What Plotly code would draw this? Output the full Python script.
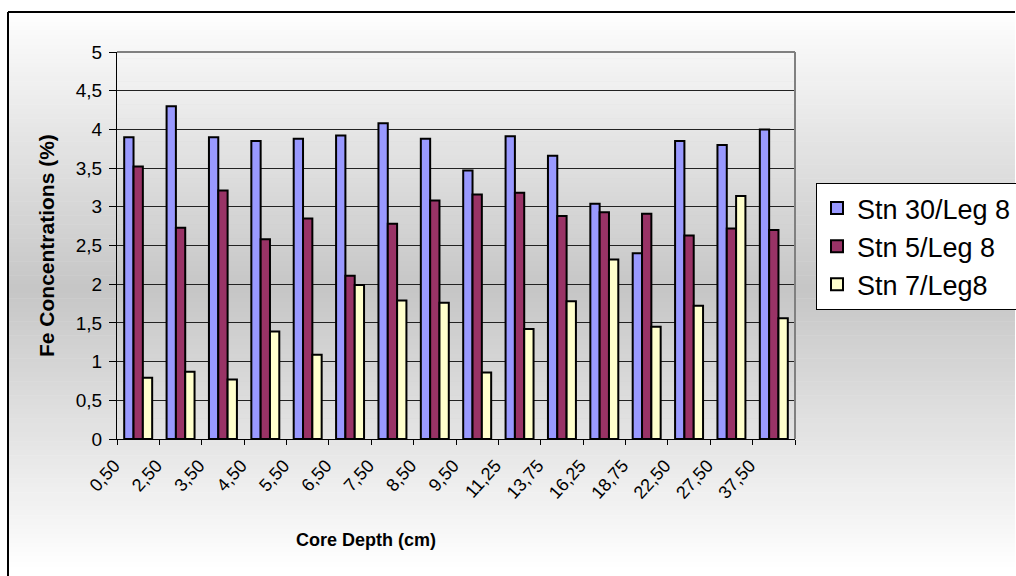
import plotly.graph_objects as go

# Core depths (cm) and Fe concentrations (%) for three stations
depths = ["0,50", "2,50", "3,50", "4,50", "5,50", "6,50", "7,50", "8,50",
          "9,50", "11,25", "13,75", "16,25", "18,75", "22,50", "27,50", "37,50"]
stn30_leg8 = [3.90, 4.30, 3.90, 3.85, 3.88, 3.92, 4.08, 3.88,
              3.47, 3.91, 3.66, 3.04, 2.40, 3.85, 3.80, 4.00]
stn5_leg8 = [3.52, 2.73, 3.21, 2.58, 2.85, 2.11, 2.78, 3.08,
             3.16, 3.18, 2.88, 2.93, 2.91, 2.63, 2.72, 2.70]
stn7_leg8 = [0.79, 0.87, 0.77, 1.39, 1.09, 1.99, 1.79, 1.76,
             0.86, 1.42, 1.78, 2.32, 1.45, 1.72, 3.14, 1.56]

y_ticks = [0, 0.5, 1, 1.5, 2, 2.5, 3, 3.5, 4, 4.5, 5]
y_tick_text = ["0", "0,5", "1", "1,5", "2", "2,5", "3", "3,5", "4", "4,5", "5"]

FONT = "Liberation Sans, Arial, sans-serif"
W, H = 1016, 576
L, R, T, B = 117, 221, 52, 137
PW, PH = W - L - R, H - T - B
RIGHT_END = W - 1


def px_x(x):
    return (x - L) / PW


def px_y(y):
    return (H - B - y) / PH


fig = go.Figure()
series = [
    ("Stn 30/Leg 8", stn30_leg8, "#9999ff"),
    ("Stn 5/Leg 8", stn5_leg8, "#993366"),
    ("Stn 7/Leg8", stn7_leg8, "#ffffcc"),
]
for name, vals, color in series:
    fig.add_trace(go.Bar(
        x=depths, y=vals, name=name,
        marker=dict(color=color, line=dict(color="black", width=2)),
    ))

# Chart-area background: vertical white -> grey -> white gradient built from strips
shapes = []
top_px, bot_px, mid_px = 12, 566, 289
n = 120
for i in range(n):
    y0 = top_px + (bot_px - top_px) * i / n
    y1 = top_px + (bot_px - top_px) * (i + 1) / n
    yc = (y0 + y1) / 2
    f = 1 - abs(yc - mid_px) / (mid_px - top_px if yc < mid_px else bot_px - mid_px)
    g = round(254 - f * (254 - 198))
    col = f"rgb({g},{g},{g})"
    shapes.append(dict(type="rect", xref="paper", yref="paper", layer="below",
                       x0=px_x(8), x1=px_x(RIGHT_END), y0=px_y(min(y1 + 0.5, H)), y1=px_y(y0),
                       fillcolor=col, line=dict(width=0)))
# Outer chart border (top and left edges fall inside the canvas)
shapes.append(dict(type="line", xref="paper", yref="paper", layer="above",
                   x0=px_x(8), x1=px_x(RIGHT_END), y0=px_y(12), y1=px_y(12),
                   line=dict(color="black", width=2)))
shapes.append(dict(type="line", xref="paper", yref="paper", layer="above",
                   x0=px_x(8), x1=px_x(8), y0=px_y(12), y1=px_y(H),
                   line=dict(color="black", width=2)))
# Grey plot-area border on top and right
shapes.append(dict(type="line", xref="paper", yref="paper", x0=0, x1=1, y0=1, y1=1,
                   line=dict(color="#808080", width=2)))
shapes.append(dict(type="line", xref="paper", yref="paper", x0=1, x1=1, y0=0, y1=1,
                   line=dict(color="#808080", width=2)))

annotations = [
    dict(text="<b>Core Depth (cm)</b>", xref="paper", yref="paper",
         x=px_x(366), y=px_y(540), xanchor="center", yanchor="middle", showarrow=False,
         font=dict(family=FONT, size=18, color="black")),
    dict(text="<b>Fe Concentrations (%)</b>", xref="paper", yref="paper",
         x=px_x(47), y=px_y(246), xanchor="center", yanchor="middle",
         textangle=-90, showarrow=False,
         font=dict(family=FONT, size=21, color="black")),
]

fig.update_layout(
    width=W, height=H,
    margin=dict(l=L, r=R, t=T, b=B, pad=0, autoexpand=False),
    paper_bgcolor="white",
    plot_bgcolor="#c0c0c0",
    barmode="group",
    bargap=0.34,
    bargroupgap=0,
    font=dict(family=FONT, size=16, color="black"),
    shapes=shapes,
    annotations=annotations,
    legend=dict(
        x=px_x(816), y=px_y(183), xanchor="left", yanchor="top",
        bgcolor="white", bordercolor="black", borderwidth=1,
        font=dict(family=FONT, size=27, color="black"),
        tracegroupgap=0,
    ),
    showlegend=True,
)
fig.update_xaxes(
    type="category", tickangle=-48, tickson="boundaries",
    ticks="outside", ticklen=5, tickcolor="black",
    showline=True, linecolor="black", linewidth=1,
    showgrid=False, tickfont=dict(family=FONT, size=18),
    ticklabelshift=-24, ticklabelstandoff=8,
)
fig.update_yaxes(
    range=[0, 5], tickvals=y_ticks, ticktext=y_tick_text,
    ticks="outside", ticklen=7, tickcolor="black",
    showline=True, linecolor="black", linewidth=1,
    showgrid=True, gridcolor="#222222", gridwidth=1,
    zeroline=False, tickfont=dict(family=FONT, size=19),
    ticklabelstandoff=3,
)

fig.write_html("out.html")
